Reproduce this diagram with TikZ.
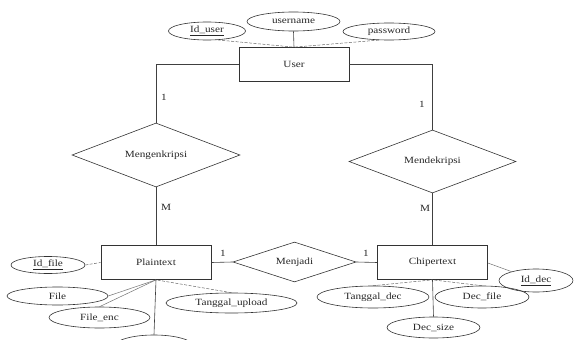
\documentclass[tikz,border=0pt]{standalone}
\usepackage{fontspec}
\setmainfont{Liberation Serif}[FakeStretch=1.18]
\usetikzlibrary{shapes.geometric}

\begin{document}
\begin{tikzpicture}[
        x=1pt, y=-1pt,
        every node/.style={font=\fontsize{9.5}{11}\selectfont, text=black!85},
        entity/.style={rectangle, draw=black!80, line width=0.7pt, minimum width=110pt, minimum height=34pt, inner sep=0pt},
        relation/.style={diamond, draw=black!80, line width=0.6pt, aspect=2.6, inner sep=0pt},
        attr/.style={ellipse, draw=black!80, line width=0.6pt, inner sep=0pt},
        link/.style={draw=black!75, line width=0.6pt},
        weaklink/.style={draw=black!55, line width=0.5pt},
        dashlink/.style={draw=black!60, line width=0.5pt, dash pattern=on 3pt off 1.5pt},
        card/.style={inner sep=0pt},
      ]

      \useasboundingbox (0,0) rectangle (574,340);

      % entities
      \node[entity] (user) at (294,64.5) {User};
      \node[entity] (plain) at (156,262.5) {Plaintext};
      \node[entity] (chiper) at (432.5,262.5) {Chipertext};

      % relations
      \node[relation, minimum width=168pt, minimum height=64pt] (enkrip) at (156,155) {Mengenkripsi};
      \node[relation, minimum width=167pt, minimum height=63pt] (dekrip) at (432.5,161.5) {Mendekripsi};
      \node[relation, minimum width=123pt, minimum height=40pt] (jadi) at (294.5,262) {Menjadi};

      % attributes of User
      \node[attr, minimum width=77pt, minimum height=18pt] (iduser) at (207,31) {\underline{Id\_user}};
      \node[attr, minimum width=93pt, minimum height=19pt] (uname) at (293.5,21.5) {username};
      \node[attr, minimum width=92pt, minimum height=17pt] (pass) at (389,31.5) {password};

      % attributes of Plaintext
      \node[attr, minimum width=74pt, minimum height=17pt] (idfile) at (48,265) {\underline{Id\_file}};
      \node[attr, minimum width=101pt, minimum height=18pt] (file) at (57.5,296) {File};
      \node[attr, minimum width=101pt, minimum height=21pt] (fileenc) at (99.5,317.5) {File\_enc};
      \node[attr, minimum width=131pt, minimum height=20pt] (tupload) at (231.5,303) {Tanggal\_upload};

      % attributes of Chipertext
      \node[attr, minimum width=74pt, minimum height=23pt] (iddec) at (536,280.5) {\underline{Id\_dec}};
      \node[attr, minimum width=112pt, minimum height=22pt] (tdec) at (373,297) {Tanggal\_dec};
      \node[attr, minimum width=94pt, minimum height=22pt] (decfile) at (482,297) {Dec\_file};
      \node[attr, minimum width=93pt, minimum height=21pt] (decsize) at (433.5,327.5) {Dec\_size};

      % attribute cut off by the page edge
      \begin{scope}
        \clip (0,0) rectangle (574,340);
        \node[attr, minimum width=78pt, minimum height=22pt] (plainmore) at (154,346) {};
      \end{scope}

      % relationship lines
      \draw[link] (user.west) -| (enkrip.north);
      \draw[link] (user.east) -| (dekrip.north);
      \draw[link] (enkrip.south) -- (plain.north);
      \draw[link] (dekrip.south) -- (chiper.north);
      \draw[link] (plain.east) -- (jadi.west);
      \draw[link] (jadi.east) -- (chiper.west);

      % cardinalities
      \node[card] (c1) at (164,97) {1};
      \node[card] (c2) at (166,207) {M};
      \node[card] (c3) at (422,104) {1};
      \node[card] (c4) at (425,208) {M};
      \node[card] (c5) at (223,253) {1};
      \node[card] (c6) at (366,253) {1};

      % attribute lines
      \draw[dashlink] (iduser.-40) -- (user.north);
      \draw[link] (uname.south) -- (user.north);
      \draw[dashlink] (pass.-140) -- (user.north);
      \draw[dashlink] (idfile.east) -- (plain.west);
      \draw[weaklink] (file.east) -- (plain.south);
      \draw[weaklink] (fileenc.north) -- (plain.south);
      \draw[dashlink] (tupload.north) -- (plain.south);
      \draw[link] (plainmore.north) -- (plain.south);
      \draw[weaklink] (chiper.east) ++(0,0.5) -- (iddec.160);
      \draw[dashlink] (tdec.north) -- (chiper.south);
      \draw[dashlink] (decfile.north) -- (chiper.south);
      \draw[link] (decsize.north) -- (chiper.south);

    \end{tikzpicture}
\end{document}
